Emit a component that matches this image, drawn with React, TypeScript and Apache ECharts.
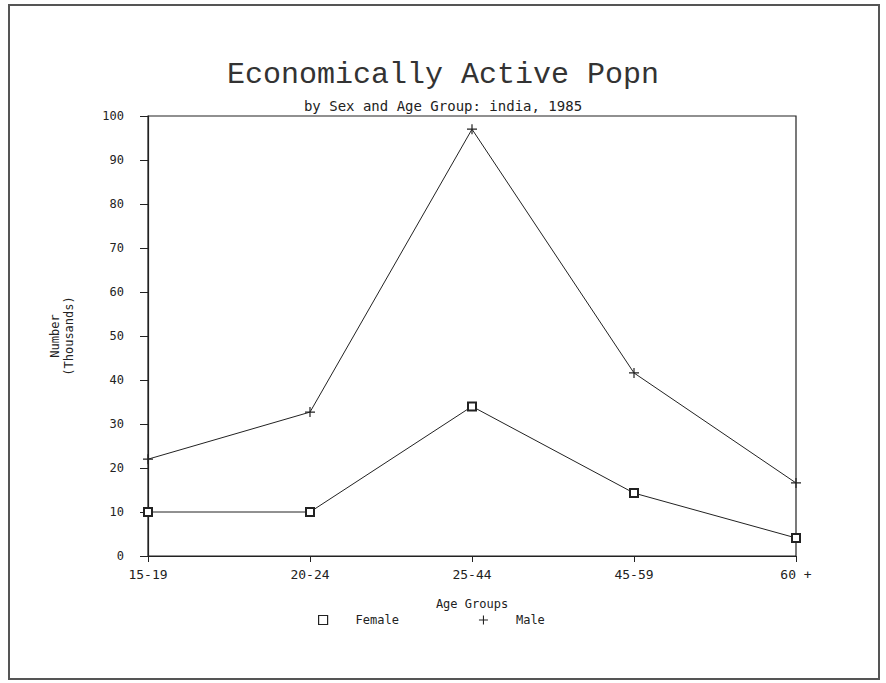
import React, { useEffect, useRef } from "react";
import * as echarts from "echarts";

const categories = ["15-19", "20-24", "25-44", "45-59", "60 +"];
const female = [10, 10, 34, 14.3, 4.1];
const male = [22, 32.7, 97, 41.6, 16.6];
const yTicks = { min: 0, max: 100, interval: 10 };

const INK = "#222";
const MONO = "'DejaVu Sans Mono', 'Liberation Mono', monospace";
const THIN = "'Liberation Mono', 'DejaVu Sans Mono', monospace";
const PLUS = "path://M4.4,0 L5.6,0 L5.6,4.4 L10,4.4 L10,5.6 L5.6,5.6 L5.6,10 L4.4,10 L4.4,5.6 L0,5.6 L0,4.4 L4.4,4.4 Z";

export default function App() {
  const ref = useRef<HTMLDivElement>(null);
  useEffect(() => {
    document.body.style.margin = "0";
    const chart = echarts.init(ref.current!, null, { renderer: "svg" });
    chart.setOption({
      animation: false,
      backgroundColor: "#fff",
      title: [
        {
          text: "Economically Active Popn",
          left: "center",
          top: 55,
          textStyle: { fontFamily: THIN, fontSize: 30, fontWeight: "normal", color: "#333" },
        },
        {
          text: "by Sex and Age Group: india, 1985",
          left: "center",
          top: 94,
          textStyle: { fontFamily: MONO, fontSize: 14, fontWeight: "normal", color: INK },
        },
      ],
      graphic: [
        {
          type: "rect",
          shape: { x: 9, y: 5, width: 870, height: 674 },
          style: { fill: "none", stroke: "#555", lineWidth: 2 },
          silent: true,
        },
      ],
      grid: {
        left: 148,
        top: 116,
        right: 90,
        bottom: 127,
        show: true,
        borderColor: INK,
        borderWidth: 1.2,
        backgroundColor: "transparent",
      },
      legend: {
        bottom: 52,
        left: 313,
        itemGap: 80,
        itemWidth: 9,
        itemHeight: 9,
        textStyle: { fontFamily: MONO, fontSize: 12, color: INK, padding: [0, 0, 0, 23] },
        data: [
          { name: "Female", icon: "rect", itemStyle: { color: "#fff", borderColor: INK, borderWidth: 1.2 } },
          { name: "Male", icon: PLUS, itemStyle: { color: INK, borderWidth: 0 } },
        ],
      },
      xAxis: {
        type: "category",
        data: categories,
        boundaryGap: false,
        name: "Age Groups",
        nameLocation: "middle",
        nameGap: 42,
        nameTextStyle: { fontFamily: MONO, fontSize: 12, color: INK },
        axisLine: { lineStyle: { color: INK, width: 1.2 } },
        axisTick: { show: true, length: 6, lineStyle: { color: INK } },
        axisLabel: { fontFamily: MONO, fontSize: 13, color: INK, margin: 12 },
        splitLine: { show: false },
      },
      yAxis: {
        type: "value",
        min: yTicks.min,
        max: yTicks.max,
        interval: yTicks.interval,
        name: "Number\n(Thousands)",
        nameLocation: "middle",
        nameGap: 72,
        nameRotate: 90,
        nameTextStyle: { fontFamily: MONO, fontSize: 12, color: INK, lineHeight: 14 },
        axisLine: { show: true, lineStyle: { color: INK, width: 1.2 } },
        axisTick: { show: true, length: 8, lineStyle: { color: INK } },
        axisLabel: { fontFamily: MONO, fontSize: 12, color: INK, margin: 24 },
        splitLine: { show: false },
      },
      series: [
        {
          name: "Female",
          type: "line",
          data: female,
          symbol: "emptyRect",
          symbolSize: 8,
          lineStyle: { color: INK, width: 1 },
          itemStyle: { color: INK, borderWidth: 1.2 },
        },
        {
          name: "Male",
          type: "line",
          data: male,
          symbol: PLUS,
          symbolSize: 10,
          lineStyle: { color: INK, width: 1 },
          itemStyle: { color: INK },
        },
      ],
    });
    return () => chart.dispose();
  }, []);
  return <div ref={ref} style={{ width: 886, height: 683 }} />;
}
